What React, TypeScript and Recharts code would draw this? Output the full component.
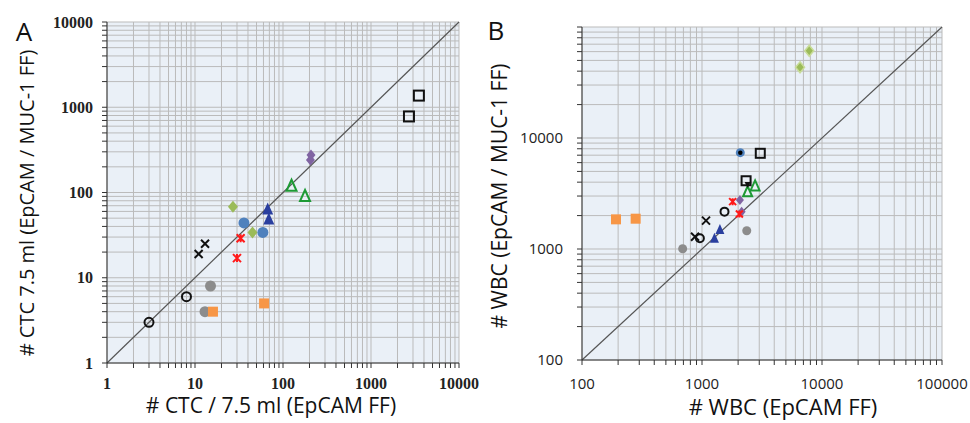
import React from 'react';
import { ScatterChart, Scatter, XAxis, YAxis, CartesianGrid, ReferenceLine } from 'recharts';

type Pt = { x: number; y: number };

// Panel A: # CTC / 7.5 ml, EpCAM FF (x) vs EpCAM / MUC-1 FF (y)
const ctcOpenCircle: Pt[] = [{ x: 3, y: 3 }, { x: 8, y: 6 }];
const ctcGray: Pt[] = [{ x: 13, y: 4 }, { x: 15, y: 8 }];
const ctcOrange: Pt[] = [{ x: 16, y: 4 }, { x: 61, y: 5 }];
const ctcCross: Pt[] = [{ x: 11, y: 19 }, { x: 13, y: 25 }];
const ctcStar: Pt[] = [{ x: 30, y: 17 }, { x: 33, y: 29 }];
const ctcLime: Pt[] = [{ x: 27, y: 68 }, { x: 45, y: 34 }];
const ctcBlue: Pt[] = [{ x: 36, y: 44 }, { x: 59, y: 34 }];
const ctcNavy: Pt[] = [{ x: 67, y: 64 }, { x: 69, y: 49 }];
const ctcGreenTri: Pt[] = [{ x: 125, y: 120 }, { x: 178, y: 91 }];
const ctcPurple: Pt[] = [{ x: 208, y: 275 }, { x: 205, y: 240 }];
const ctcSquare: Pt[] = [{ x: 3500, y: 1370 }, { x: 2700, y: 780 }];

// Panel B: # WBC, EpCAM FF (x) vs EpCAM / MUC-1 FF (y)
const wbcOrange: Pt[] = [{ x: 192, y: 1850 }, { x: 280, y: 1875 }];
const wbcGray: Pt[] = [{ x: 690, y: 1005 }, { x: 2360, y: 1460 }];
const wbcCross: Pt[] = [{ x: 875, y: 1290 }, { x: 1080, y: 1800 }];
const wbcOpenCircle: Pt[] = [{ x: 960, y: 1250 }, { x: 1540, y: 2170 }];
const wbcNavy: Pt[] = [{ x: 1270, y: 1250 }, { x: 1410, y: 1500 }];
const wbcPurple: Pt[] = [{ x: 2070, y: 2760 }, { x: 2140, y: 2170 }];
const wbcStar: Pt[] = [{ x: 1800, y: 2670 }, { x: 2050, y: 2070 }];
const wbcGreenTri: Pt[] = [{ x: 2400, y: 3280 }, { x: 2770, y: 3700 }];
const wbcBlackTri: Pt[] = [{ x: 2400, y: 3775 }];
const wbcSquare: Pt[] = [{ x: 2330, y: 4120 }, { x: 3060, y: 7280 }];
const wbcRingDot: Pt[] = [{ x: 2085, y: 7380 }];
const wbcLime: Pt[] = [{ x: 7830, y: 61100 }, { x: 6560, y: 43300 }];

const majorA = [1, 10, 100, 1000, 10000];
const majorB = [100, 1000, 10000, 100000];
const labelsBY = [100, 1000, 10000];
const minorSteps = [2, 3, 4, 5, 6, 7, 8, 9];

const logTicks = (majors: number[]) =>
  majors.flatMap((m, i) => (i === majors.length - 1 ? [m] : [m, ...minorSteps.map((s) => m * s)]));

const ticksA = logTicks(majorA);
const ticksB = logTicks(majorB);

const marker = (kind: string, color: string, r = 4.5) => (props: any) => {
  const { cx, cy } = props;
  if (cx == null || cy == null) return <g />;
  switch (kind) {
    case 'circle':
      return <circle cx={cx} cy={cy} r={r} fill={color} />;
    case 'openCircle':
      return <circle cx={cx} cy={cy} r={r} fill="none" stroke={color} strokeWidth={2} />;
    case 'square':
      return <rect x={cx - r} y={cy - r} width={2 * r} height={2 * r} fill={color} />;
    case 'openSquare':
      return <rect x={cx - r} y={cy - r} width={2 * r} height={2 * r} fill="none" stroke={color} strokeWidth={2} />;
    case 'cross':
      return (
        <path
          d={`M${cx - r},${cy - r}L${cx + r},${cy + r}M${cx - r},${cy + r}L${cx + r},${cy - r}`}
          stroke={color}
          strokeWidth={2}
        />
      );
    case 'star':
      return (
        <path
          d={`M${cx - r},${cy - r}L${cx + r},${cy + r}M${cx - r},${cy + r}L${cx + r},${cy - r}M${cx},${cy - r}L${cx},${cy + r}`}
          stroke={color}
          strokeWidth={2}
        />
      );
    case 'diamond':
      return <polygon points={`${cx},${cy - r - 1} ${cx + r},${cy} ${cx},${cy + r + 1} ${cx - r},${cy}`} fill={color} />;
    case 'limeDiamond':
      return (
        <polygon
          points={`${cx},${cy - r - 1} ${cx + r},${cy} ${cx},${cy + r + 1} ${cx - r},${cy}`}
          fill={color}
          stroke="#c9dc9a"
          strokeWidth={1.5}
        />
      );
    case 'triangle':
      return <polygon points={`${cx},${cy - r - 1} ${cx + r},${cy + r} ${cx - r},${cy + r}`} fill={color} />;
    case 'openTriangle':
      return (
        <polygon
          points={`${cx},${cy - r - 1} ${cx + r},${cy + r} ${cx - r},${cy + r}`}
          fill="none"
          stroke={color}
          strokeWidth={2}
        />
      );
    case 'downTriangle':
      return <polygon points={`${cx - r},${cy - r} ${cx + r},${cy - r} ${cx},${cy + r}`} fill={color} />;
    case 'ringDot':
      return (
        <g>
          <circle cx={cx} cy={cy} r={r} fill="#4f81bd" />
          <circle cx={cx} cy={cy} r={r * 0.5} fill="#000" />
        </g>
      );
    default:
      return <circle cx={cx} cy={cy} r={r} fill={color} />;
  }
};

// only the decades get a label; minor ticks keep their tick line and grid line
const tickLabel = (labels: number[], vertical: boolean, font: React.CSSProperties) => (props: any) => {
  const { x, y, payload } = props;
  if (!labels.includes(payload.value)) return <g />;
  return (
    <text
      x={x}
      y={y}
      dy={vertical ? '0.35em' : '0.71em'}
      textAnchor={vertical ? 'end' : 'middle'}
      fill="#222"
      style={font}
    >
      {String(payload.value)}
    </text>
  );
};

const axisColor = '#333';
const gridColor = '#bbbbbb';
const plotBg = '#eaf0f7';

const fontA: React.CSSProperties = { fontSize: 16, fontFamily: '"Liberation Serif", serif', fontWeight: 700 };
const fontB: React.CSSProperties = { fontSize: 15, fontFamily: '"Open Sans", sans-serif' };

const titleStyle: React.CSSProperties = {
  position: 'absolute',
  fontFamily: '"Open Sans", sans-serif',
  fontSize: 21,
  lineHeight: '24px',
  color: '#111',
  whiteSpace: 'nowrap',
  transform: 'translate(-50%, -50%)',
};

const vTitle: React.CSSProperties = {
  ...titleStyle,
  transform: 'translate(-50%, -50%) rotate(-90deg)',
};

export default function App() {
  return (
    <div style={{ position: 'absolute', left: 0, top: 0, width: 970, height: 423, background: '#fff', overflow: 'hidden' }}>
      <div style={{ position: 'absolute', left: 0, top: 0 }}>
        <ScatterChart width={485} height={423} margin={{ top: 22, right: 26, bottom: 20, left: 47 }}>
          <CartesianGrid stroke={gridColor} fill={plotBg} />
          <XAxis
            type="number"
            dataKey="x"
            scale="log"
            domain={[1, 10000]}
            allowDataOverflow
            ticks={ticksA}
            interval={0}
            tick={tickLabel(majorA, false, fontA)}
            tickSize={5}
            tickMargin={10}
            height={40}
            stroke={axisColor}
          />
          <YAxis
            type="number"
            dataKey="y"
            scale="log"
            domain={[1, 10000]}
            allowDataOverflow
            ticks={ticksA}
            interval={0}
            tick={tickLabel(majorA, true, fontA)}
            tickSize={5}
            tickMargin={9}
            width={60}
            stroke={axisColor}
          />
          <ReferenceLine segment={[{ x: 1, y: 1 }, { x: 10000, y: 10000 }]} stroke="#555" strokeWidth={1.2} />
          <Scatter data={ctcOpenCircle} isAnimationActive={false} shape={marker('openCircle', '#111', 4.5)} />
          <Scatter data={ctcGray} isAnimationActive={false} shape={marker('circle', '#8c8c8c', 5.5)} />
          <Scatter data={ctcOrange} isAnimationActive={false} shape={marker('square', '#f79646', 5)} />
          <Scatter data={ctcCross} isAnimationActive={false} shape={marker('cross', '#111', 4)} />
          <Scatter data={ctcStar} isAnimationActive={false} shape={marker('star', '#ff1a1a', 4)} />
          <Scatter data={ctcLime} isAnimationActive={false} shape={marker('diamond', '#9bbb59', 5)} />
          <Scatter data={ctcBlue} isAnimationActive={false} shape={marker('circle', '#4f81bd', 5.5)} />
          <Scatter data={ctcNavy} isAnimationActive={false} shape={marker('triangle', '#2a3f9f', 5.5)} />
          <Scatter data={ctcGreenTri} isAnimationActive={false} shape={marker('openTriangle', '#1e9a35', 5)} />
          <Scatter data={ctcPurple} isAnimationActive={false} shape={marker('diamond', '#8064a2', 4.5)} />
          <Scatter data={ctcSquare} isAnimationActive={false} shape={marker('openSquare', '#111', 5)} />
        </ScatterChart>
      </div>

      <div style={{ position: 'absolute', left: 485, top: 0 }}>
        <ScatterChart width={485} height={423} margin={{ top: 27, right: 28, bottom: 23, left: 37 }}>
          <CartesianGrid stroke={gridColor} fill={plotBg} />
          <XAxis
            type="number"
            dataKey="x"
            scale="log"
            domain={[100, 100000]}
            allowDataOverflow
            ticks={ticksB}
            interval={0}
            tick={tickLabel(majorB, false, fontB)}
            tickSize={5}
            tickMargin={13}
            height={40}
            stroke={axisColor}
          />
          <YAxis
            type="number"
            dataKey="y"
            scale="log"
            domain={[100, 100000]}
            allowDataOverflow
            ticks={ticksB}
            interval={0}
            tick={tickLabel(labelsBY, true, fontB)}
            tickSize={5}
            tickMargin={14}
            width={60}
            stroke={axisColor}
          />
          <ReferenceLine segment={[{ x: 100, y: 100 }, { x: 100000, y: 100000 }]} stroke="#555" strokeWidth={1.2} />
          <Scatter data={wbcOrange} isAnimationActive={false} shape={marker('square', '#f79646', 5)} />
          <Scatter data={wbcGray} isAnimationActive={false} shape={marker('circle', '#8c8c8c', 4.5)} />
          <Scatter data={wbcCross} isAnimationActive={false} shape={marker('cross', '#111', 4)} />
          <Scatter data={wbcOpenCircle} isAnimationActive={false} shape={marker('openCircle', '#111', 4)} />
          <Scatter data={wbcNavy} isAnimationActive={false} shape={marker('triangle', '#2a3f9f', 4.5)} />
          <Scatter data={wbcPurple} isAnimationActive={false} shape={marker('diamond', '#8064a2', 4)} />
          <Scatter data={wbcStar} isAnimationActive={false} shape={marker('star', '#ff1a1a', 3.5)} />
          <Scatter data={wbcGreenTri} isAnimationActive={false} shape={marker('openTriangle', '#1e9a35', 4.5)} />
          <Scatter data={wbcBlackTri} isAnimationActive={false} shape={marker('downTriangle', '#111', 3)} />
          <Scatter data={wbcSquare} isAnimationActive={false} shape={marker('openSquare', '#111', 4.5)} />
          <Scatter data={wbcRingDot} isAnimationActive={false} shape={marker('ringDot', '#4f81bd', 4.5)} />
          <Scatter data={wbcLime} isAnimationActive={false} shape={marker('limeDiamond', '#9bbb59', 4.5)} />
        </ScatterChart>
      </div>

      <div style={{ ...titleStyle, left: 24, top: 31, fontSize: 26, lineHeight: '30px' }}>A</div>
      <div style={{ ...titleStyle, left: 496, top: 30, fontSize: 26, lineHeight: '30px' }}>B</div>
      <div style={{ ...vTitle, left: 27, top: 203, fontSize: 20 }}># CTC 7.5 ml (EpCAM / MUC-1 FF)</div>
      <div style={{ ...titleStyle, left: 271, top: 405 }}># CTC / 7.5 ml (EpCAM FF)</div>
      <div style={{ ...vTitle, left: 499, top: 196 }}># WBC (EpCAM / MUC-1 FF)</div>
      <div style={{ ...titleStyle, left: 783, top: 406, fontSize: 22 }}># WBC (EpCAM FF)</div>
    </div>
  );
}
